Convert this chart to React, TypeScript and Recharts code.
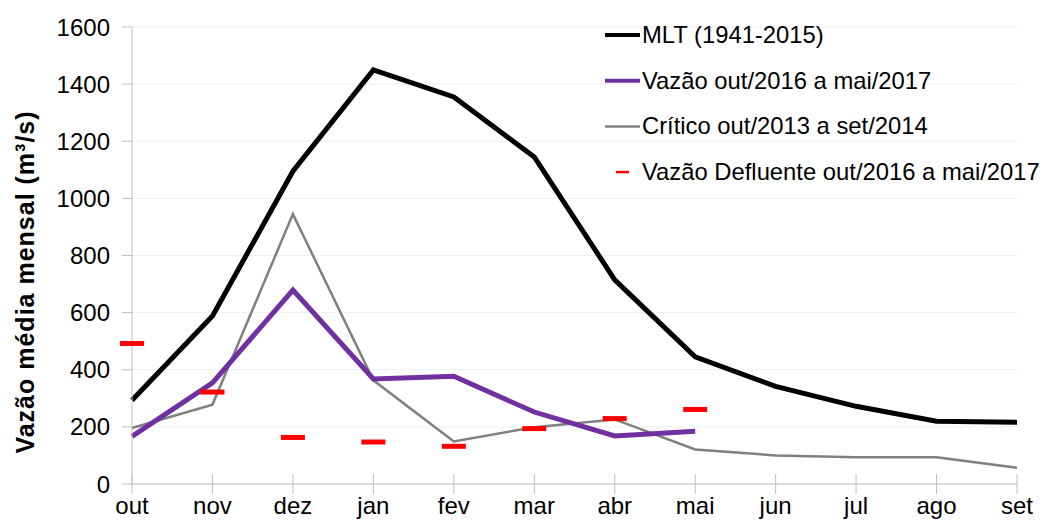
import React from 'react';
import { LineChart, Line, XAxis, YAxis, CartesianGrid } from 'recharts';

const months = ['out', 'nov', 'dez', 'jan', 'fev', 'mar', 'abr', 'mai', 'jun', 'jul', 'ago', 'set'];
const mlt = [293, 588, 1095, 1450, 1355, 1145, 715, 445, 342, 272, 220, 216];
const vazao = [167, 354, 679, 368, 377, 252, 168, 185, null, null, null, null];
const critico = [196, 278, 945, 363, 149, 199, 226, 121, 100, 94, 94, 57];
const defluente = [492, 322, 163, 147, 132, 194, 229, 261, null, null, null, null];
const yTicks = [0, 200, 400, 600, 800, 1000, 1200, 1400, 1600];

const data = months.map((m, i) => ({
  month: m,
  mlt: mlt[i],
  vazao: vazao[i],
  critico: critico[i],
  defluente: defluente[i],
}));

const FONT = '"Liberation Sans", Arial, sans-serif';

const legendItems = [
  { label: 'MLT (1941-2015)', color: '#000000', width: 4, x1: 0, x2: 35 },
  { label: 'Vazão out/2016 a mai/2017', color: '#7030A0', width: 4, x1: 0, x2: 35 },
  { label: 'Crítico out/2013 a set/2014', color: '#808080', width: 2.5, x1: 0, x2: 35 },
  { label: 'Vazão Defluente out/2016 a mai/2017', color: '#FF0000', width: 2.5, x1: 11, x2: 24 },
];

// legend drawn on its own so it does not shrink the plot area
const LegendBox = () => (
  <svg width={440} height={190} style={{ position: 'absolute', left: 605, top: 12 }}>
    {legendItems.map((it, i) => (
      <g key={it.label} transform={`translate(0, ${i * 45.7 + 23})`}>
        <line x1={it.x1} x2={it.x2} y1={0} y2={0} stroke={it.color} strokeWidth={it.width} />
        <text x={37} y={8} fontSize={23.8} fontFamily={FONT} fill="#000">
          {it.label}
        </text>
      </g>
    ))}
  </svg>
);

const MonthTick = (props: any) => {
  const { x, y, payload } = props;
  return (
    <g>
      <line x1={x} x2={x} y1={y - 10} y2={y + 10} stroke="#bfbfbf" strokeWidth={1} />
      <text x={x} y={y + 30} textAnchor="middle" fontSize={24} fontFamily={FONT} fill="#000">
        {payload.value}
      </text>
    </g>
  );
};

const Dash = (props: any) => {
  const { cx, cy, index } = props;
  if (cy == null || isNaN(cy)) return <g key={`d-${index}`} />;
  return <rect key={`d-${index}`} x={cx - 12} y={cy - 2.5} width={24} height={5} fill="#FF0000" />;
};

const App = () => {
  return (
    <div style={{ position: 'absolute', left: 0, top: 0, width: 1043, height: 528, background: '#fff' }}>
      <LineChart
        width={1043}
        height={528}
        data={data}
        margin={{ top: 27, right: 26, bottom: 14, left: 60 }}
      >
        <CartesianGrid horizontal vertical={false} stroke="#efefef" />
        <XAxis
          dataKey="month"
          height={30}
          interval={0}
          tickSize={0}
          tickMargin={0}
          tickLine={false}
          axisLine={{ stroke: '#bfbfbf' }}
          tick={<MonthTick />}
        />
        <YAxis
          width={72}
          domain={[0, 1600]}
          ticks={yTicks}
          interval={0}
          tickSize={10}
          tickMargin={12}
          axisLine={{ stroke: '#bfbfbf' }}
          tickLine={{ stroke: '#bfbfbf' }}
          tick={{ fontSize: 24, fontFamily: FONT, fill: '#000' }}
          label={{
            content: () => (
              <text
                x={34}
                y={282}
                transform="rotate(-90, 34, 282)"
                textAnchor="middle"
                fontSize={25}
                fontWeight="bold"
                letterSpacing={1}
                fontFamily={FONT}
                fill="#000"
              >
                Vazão média mensal (m³/s)
              </text>
            ),
          }}
        />
        <Line
          dataKey="critico"
          stroke="#808080"
          strokeWidth={2.5}
          dot={false}
          isAnimationActive={false}
        />
        <Line
          dataKey="mlt"
          stroke="#000000"
          strokeWidth={5}
          dot={false}
          isAnimationActive={false}
        />
        <Line
          dataKey="vazao"
          stroke="#7030A0"
          strokeWidth={5}
          dot={false}
          isAnimationActive={false}
        />
        <Line
          dataKey="defluente"
          stroke="none"
          dot={<Dash />}
          activeDot={false}
          isAnimationActive={false}
        />
      </LineChart>
      <LegendBox />
    </div>
  );
};

export default App;
